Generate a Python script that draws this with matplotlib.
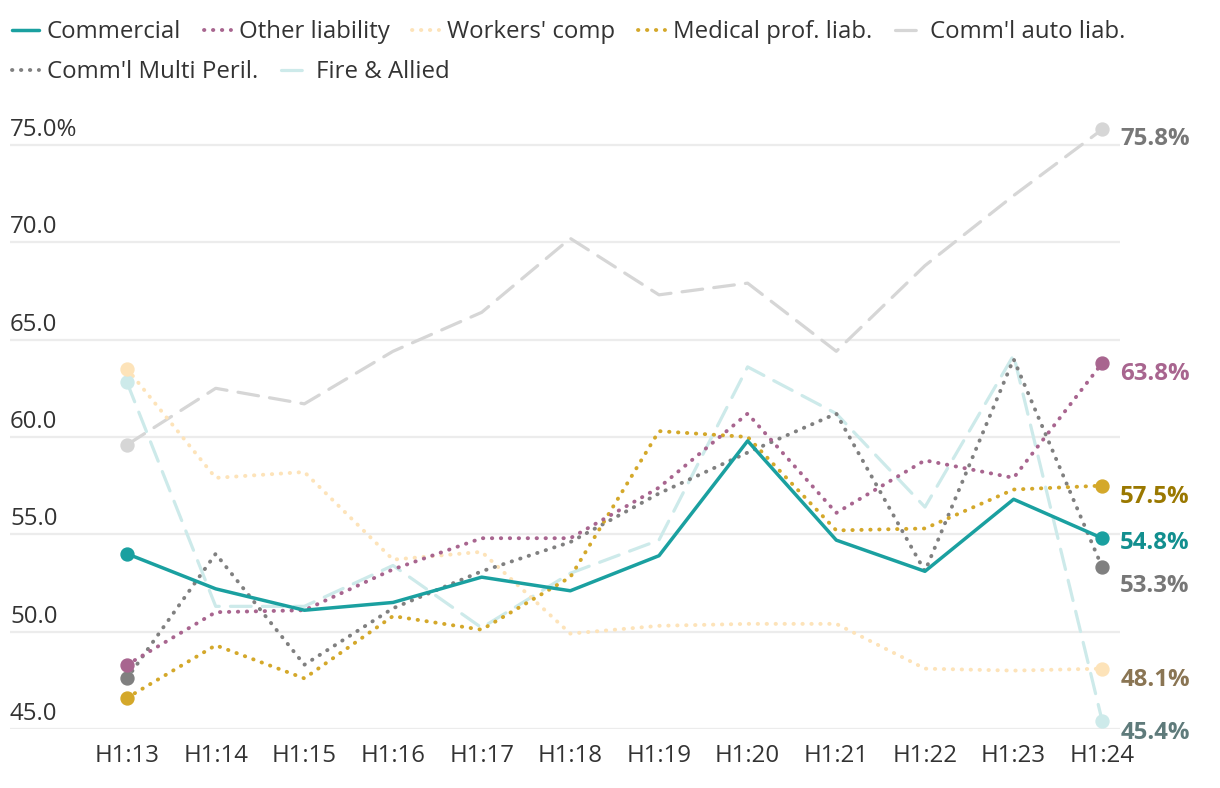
import matplotlib
matplotlib.use("Agg")
import matplotlib.pyplot as plt
import matplotlib.transforms as mtransforms
from matplotlib.lines import Line2D

plt.rcParams['font.family'] = ['Open Sans', 'DejaVu Sans']

periods = ['H1:13', 'H1:14', 'H1:15', 'H1:16', 'H1:17', 'H1:18',
           'H1:19', 'H1:20', 'H1:21', 'H1:22', 'H1:23', 'H1:24']

commercial = [54.0, 52.2, 51.1, 51.5, 52.8, 52.1, 53.9, 59.8, 54.7, 53.1, 56.8, 54.8]
other_liab = [48.3, 51.0, 51.1, 53.2, 54.8, 54.8, 57.4, 61.2, 56.1, 58.8, 57.9, 63.8]
workers = [63.5, 57.9, 58.2, 53.7, 54.1, 49.9, 50.3, 50.4, 50.4, 48.1, 48.0, 48.1]
medical = [46.6, 49.3, 47.6, 50.8, 50.1, 52.8, 60.3, 60.0, 55.2, 55.3, 57.3, 57.5]
auto_liab = [59.6, 62.5, 61.7, 64.4, 66.4, 70.2, 67.3, 67.9, 64.4, 68.8, 72.4, 75.8]
multi_peril = [47.6, 54.0, 48.3, 51.2, 53.1, 54.6, 57.1, 59.2, 61.2, 53.1, 64.0, 53.3]
fire = [62.8, 51.3, 51.3, 53.4, 50.2, 53.0, 54.7, 63.6, 61.2, 56.4, 64.2, 45.4]

y_ticks = [45, 50, 55, 60, 65, 70, 75]

# name, values, line colour, label colour, style, label offset (px)
series = [
    ("Comm'l auto liab.", auto_liab, '#d6d6d6', '#777777', 'dash', -10),
    ("Fire & Allied", fire, '#cdeaea', '#5f7b7b', 'dash', -12),
    ("Workers' comp", workers, '#fde3b9', '#8a7553', 'dot', -11),
    ("Comm'l Multi Peril.", multi_peril, '#808080', '#777777', 'dot', -19),
    ("Medical prof. liab.", medical, '#d4a82a', '#9a7800', 'dot', -11),
    ("Other liability", other_liab, '#a8658f', '#a8658f', 'dot', -11),
    ("Commercial", commercial, '#1aa0a0', '#128f8f', 'solid', -5),
]

fs = 17.3

fig = plt.figure(figsize=(12.2, 7.88), dpi=100)
ax = fig.add_axes([10 / 1220, 59 / 788, 1110 / 1220, 623 / 788])

x = list(range(len(periods)))
handles = {}
for name, vals, col, lcol, style, off in series:
    if style == 'solid':
        ls = '-'
        lw = 2.5
    elif style == 'dash':
        ls = (0, (6.5, 3.5))
        lw = 2.3
    else:
        ls = (0, (0.1, 2.2))
        lw = 2.8
    ax.plot(x, vals, color=col, lw=lw, ls=ls, dash_capstyle='round',
            solid_capstyle='round', clip_on=False, zorder=3)
    ax.plot([x[0], x[-1]], [vals[0], vals[-1]], 'o', color=col, ms=9.3,
            clip_on=False, zorder=4)
    handles[name] = Line2D([], [], color=col, lw=lw, ls=ls,
                           dash_capstyle='round', solid_capstyle='round')
    ax.annotate('{:.1f}%'.format(vals[-1]), (x[-1], vals[-1]),
                xytext=(18, off), textcoords='offset pixels',
                ha='left', va='center', fontsize=fs, fontweight='bold',
                color=lcol, annotation_clip=False)

ax.set_xlim(-1.32, 11.2)
ax.set_ylim(45, 77)

for v in y_ticks:
    ax.axhline(v, color='#ececec', lw=1.6, zorder=1)
trans = mtransforms.blended_transform_factory(ax.transAxes, ax.transData)
for v in y_ticks:
    lab = '{:.1f}%'.format(v) if v == y_ticks[-1] else '{:.1f}'.format(v)
    ax.annotate(lab, (0, v), xycoords=trans, xytext=(0, 3),
                textcoords='offset pixels', ha='left', va='bottom',
                fontsize=fs, color='#333333')

ax.set_xticks(x, periods)
ax.set_yticks([])
ax.tick_params(axis='x', length=0, pad=11, labelsize=fs, labelcolor='#333333')
for s in ax.spines.values():
    s.set_visible(False)

row1 = ["Commercial", "Other liability", "Workers' comp",
        "Medical prof. liab.", "Comm'l auto liab."]
row2 = ["Comm'l Multi Peril.", "Fire & Allied"]
kw = dict(frameon=False, fontsize=fs, handlelength=1.12, handletextpad=0.33,
          columnspacing=0.95, labelcolor='#333333', loc='upper left',
          borderaxespad=0, borderpad=0)
fig.legend([handles[n] for n in row1], row1, ncol=5,
           bbox_to_anchor=(12 / 1220, 1 - 20 / 788), **kw)
fig.legend([handles[n] for n in row2], row2, ncol=2,
           bbox_to_anchor=(12 / 1220, 1 - 60 / 788), **kw)

fig.savefig('out.png', dpi=100)
